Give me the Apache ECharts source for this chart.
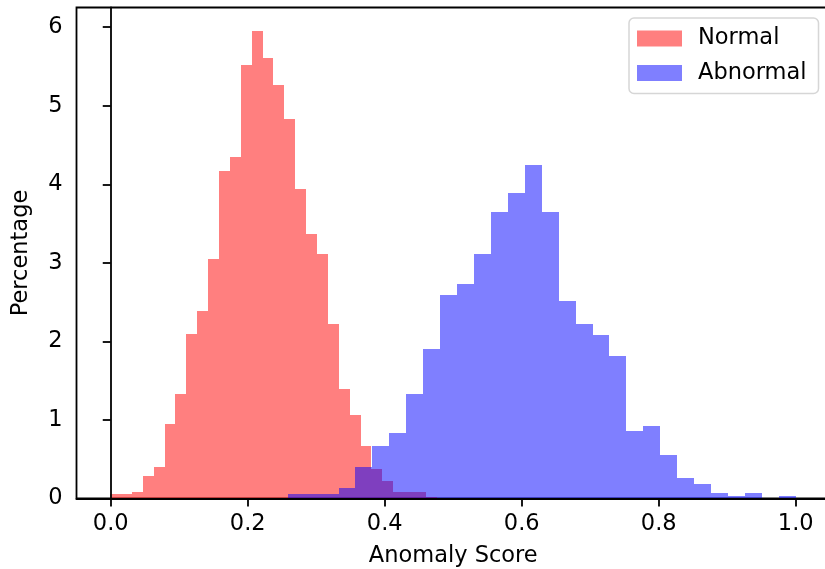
<!DOCTYPE html>
<html>
<head>
<meta charset="utf-8">
<script src="https://cdn.jsdelivr.net/npm/echarts@6.0.0/dist/echarts.min.js"></script>
<style>
  html, body { margin: 0; padding: 0; background: #fff; }
  #main { width: 825px; height: 569px; }
</style>
</head>
<body>
<div id="main"></div>
<script>
// histogram heights (percentage), 30 equal bins per class
var normalHeights = [0.055, 0.055, 0.085, 0.29, 0.405, 0.95, 1.33, 2.10, 2.39, 3.05,
  4.17, 4.35, 5.52, 5.95, 5.61, 5.26, 4.83, 3.94, 3.37, 3.11,
  2.22, 1.39, 1.06, 0.67, 0.376, 0.227, 0.087, 0.087, 0.087, 0.02];
var abnormalHeights = [0.06, 0.06, 0.06, 0.14, 0.405, 0.67, 0.84, 1.33, 1.90, 2.59,
  2.73, 3.11, 3.65, 3.89, 4.24, 3.65, 2.51, 2.22, 2.08, 1.82,
  0.86, 0.92, 0.55, 0.265, 0.18, 0.066, 0.03, 0.066, 0, 0.03];
// score range covered by each histogram
var normalRange = [-0.001, 0.476];
var abnormalRange = [0.2584, 1.0];
var xTicks = [0, 0.2, 0.4, 0.6, 0.8, 1.0];
var yTicks = [0, 1, 2, 3, 4, 5, 6];

// turn heights into [left edge, right edge, height]
function toBins(range, heights) {
  var w = (range[1] - range[0]) / heights.length;
  return heights.map(function (h, i) {
    return [range[0] + i * w, range[0] + (i + 1) * w, h];
  });
}

// snap to whole pixels so neighbouring bins don't leave light seams
function renderBin(params, api) {
  var topLeft = api.coord([api.value(0), api.value(2)]);
  var bottomRight = api.coord([api.value(1), 0]);
  var x0 = Math.round(topLeft[0]), x1 = Math.round(bottomRight[0]);
  var y0 = Math.round(topLeft[1]), y1 = Math.round(bottomRight[1]);
  return {
    type: 'rect',
    shape: { x: x0, y: y0, width: x1 - x0, height: y1 - y0 },
    style: { fill: api.visual('color') }
  };
}

var font = 'DejaVu Sans';
var fs = 22.5;
var myChart = echarts.init(document.getElementById('main'));
myChart.setOption({
  animation: false,
  textStyle: { fontFamily: font, color: '#000' },
  grid: {
    left: 76.5, top: 7.5, width: 753.5, height: 491,
    outerBoundsMode: 'none',
    containLabel: false,
    show: true, borderColor: '#000', borderWidth: 1.8, backgroundColor: 'transparent'
  },
  legend: {
    left: 629, top: 18,
    orient: 'vertical',
    itemWidth: 45, itemHeight: 16, itemGap: 11.5,
    padding: [9, 12, 9, 8],
    borderColor: '#d6d6d6', borderWidth: 1.5, borderRadius: 5,
    backgroundColor: '#fff',
    icon: 'rect',
    textStyle: { fontFamily: font, fontSize: fs, lineHeight: 22, color: '#000', padding: [0, 0, 0, 11] },
    data: ['Normal', 'Abnormal']
  },
  xAxis: {
    type: 'value',
    min: -0.05, max: 1.05,
    z: 5,
    name: 'Anomaly Score',
    nameLocation: 'middle',
    nameGap: 46,
    nameTextStyle: { fontFamily: font, fontSize: fs, color: '#000' },
    splitLine: { show: false },
    axisLine: { show: true, lineStyle: { color: '#000', width: 1.8 } },
    axisTick: { show: true, length: 8, lineStyle: { color: '#000', width: 1.8 }, customValues: xTicks },
    axisLabel: {
      fontFamily: font, fontSize: fs, color: '#000', margin: 14,
      customValues: xTicks,
      formatter: function (v) { return v.toFixed(1); }
    }
  },
  yAxis: {
    type: 'value',
    min: 0, max: 6.25,
    z: 5,
    name: 'Percentage',
    nameLocation: 'middle',
    nameGap: 44,
    nameTextStyle: { fontFamily: font, fontSize: fs, color: '#000' },
    splitLine: { show: false },
    axisLine: { show: true, lineStyle: { color: '#000', width: 1.8 } },
    axisTick: { show: true, length: 8, lineStyle: { color: '#000', width: 1.8 }, customValues: yTicks },
    axisLabel: {
      fontFamily: font, fontSize: fs, color: '#000', margin: 14,
      customValues: yTicks
    }
  },
  series: [
    {
      name: 'Normal',
      type: 'custom',
      renderItem: renderBin,
      itemStyle: { color: 'rgba(255,0,0,0.5)' },
      encode: { x: [0, 1], y: 2 },
      data: toBins(normalRange, normalHeights)
    },
    {
      name: 'Abnormal',
      type: 'custom',
      renderItem: renderBin,
      itemStyle: { color: 'rgba(0,0,255,0.5)' },
      encode: { x: [0, 1], y: 2 },
      data: toBins(abnormalRange, abnormalHeights)
    }
  ]
});
</script>
</body>
</html>
